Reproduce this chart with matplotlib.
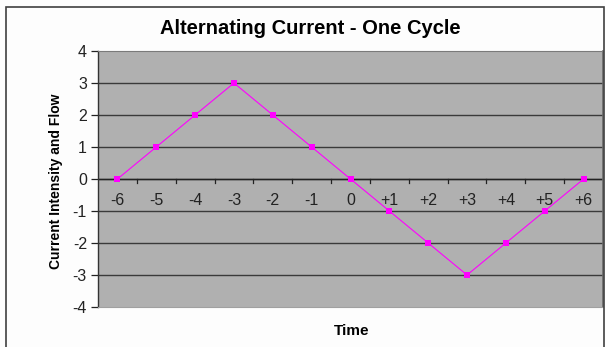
import matplotlib.pyplot as plt
import matplotlib.patches as patches

plt.rcParams['font.family'] = ['Liberation Sans', 'DejaVu Sans']
plt.rcParams['axes.unicode_minus'] = False

time_labels = ['-6', '-5', '-4', '-3', '-2', '-1', '0', '+1', '+2', '+3', '+4', '+5', '+6']
current = [0, 1, 2, 3, 2, 1, 0, -1, -2, -3, -2, -1, 0]

W, H = 605, 347
fig = plt.figure(figsize=(W / 100, H / 100), dpi=100)
fig.patch.set_facecolor('#fdfdfd')

# outer chart border (cut off at right/bottom like the screenshot)
fig.add_artist(patches.Rectangle((6 / W, -0.1), (598 / W), 1.1 - 7 / H,
                                 transform=fig.transFigure, fill=False,
                                 edgecolor='#404040', linewidth=1.2))

left, right, top, bottom = 98, 603, 51, 307
ax = fig.add_axes([left / W, 1 - bottom / H, (right - left) / W, (bottom - top) / H])
ax.set_facecolor('#b0b0b0')

x = list(range(len(current)))
ax.set_xlim(-0.5, len(current) - 0.5)
ax.set_ylim(-4, 4)

for yv in range(-3, 4):
    ax.axhline(yv, color='#3a3a3a', linewidth=1.0, zorder=1)

ax.plot(x, current, color='#ff00ff', linewidth=0.8, marker='s', markersize=4,
        markeredgewidth=0, zorder=3)

# category axis crossing at y=0
ax.axhline(0, color='#222222', linewidth=1.0, zorder=2)
for b in range(1, len(current)):
    ax.plot([b - 0.5, b - 0.5], [0, -0.14], color='#222222', linewidth=0.9, zorder=2)
for i, lab in enumerate(time_labels):
    ax.text(i, -0.66, lab, ha='center', va='center', fontsize=11.5, color='#222222')

ax.set_xticks([])
ax.set_yticks(range(-4, 5))
ax.tick_params(axis='y', direction='out', length=5, width=0.9, colors='#222222',
               labelsize=11.5, pad=3)

ax.spines['left'].set_color('#333333')
ax.spines['left'].set_linewidth(1.0)
ax.spines['top'].set_color('#7a7a7a')
ax.spines['right'].set_color('#6a6a6a')
ax.spines['right'].set_linewidth(1.2)
ax.spines['bottom'].set_color('#a0a0a0')

fig.text(310 / W, 1 - 29 / H, 'Alternating Current - One Cycle', ha='center', va='center',
         fontsize=14.5, fontweight='bold')
fig.text(56 / W, 1 - 181 / H, 'Current Intensity and Flow', ha='center', va='center',
         rotation=90, fontsize=10, fontweight='bold')
fig.text(352 / W, 1 - 331 / H, 'Time', ha='center', va='center',
         fontsize=11, fontweight='bold')

fig.savefig('out.png', dpi=100)
